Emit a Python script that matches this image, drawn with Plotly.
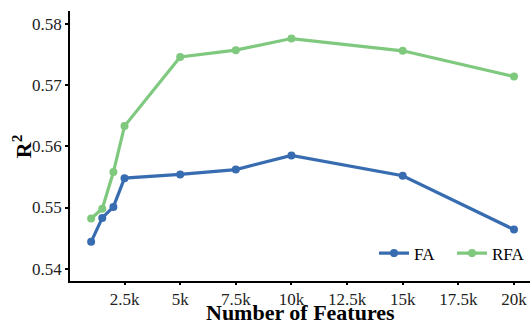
import plotly.graph_objects as go

features = [1000, 1500, 2000, 2500, 5000, 7500, 10000, 15000, 20000]
fa = [0.5444, 0.5483, 0.5501, 0.5548, 0.5554, 0.5562, 0.5585, 0.5552, 0.5464]
rfa = [0.5482, 0.5498, 0.5558, 0.5633, 0.5746, 0.5757, 0.5776, 0.5756, 0.5714]
x_ticks = [2500, 5000, 7500, 10000, 12500, 15000, 17500, 20000]
x_labels = ["2.5k", "5k", "7.5k", "10k", "12.5k", "15k", "17.5k", "20k"]
y_ticks = [0.54, 0.55, 0.56, 0.57, 0.58]
y_labels = ["0.54", "0.55", "0.56", "0.57", "0.58"]

font = "Liberation Serif"

fig = go.Figure()
fig.add_trace(go.Scatter(x=features, y=fa, name="FA", mode="lines+markers",
                         line=dict(color="#386CB0", width=3.2),
                         marker=dict(color="#386CB0", size=8)))
fig.add_trace(go.Scatter(x=features, y=rfa, name="RFA", mode="lines+markers",
                         line=dict(color="#7FC97F", width=3.2),
                         marker=dict(color="#7FC97F", size=8)))

fig.update_layout(
    width=532, height=320,
    margin=dict(l=70, r=2, t=11, b=39),
    plot_bgcolor="white", paper_bgcolor="white",
    font=dict(family=font, size=17, color="black"),
    showlegend=True,
    legend=dict(orientation="h", x=1.0, xanchor="right", y=0.035, yanchor="bottom",
                bgcolor="rgba(0,0,0,0)", font=dict(size=17, family=font),
                itemwidth=30, tracegroupgap=0, entrywidth=33),
    xaxis=dict(range=[50, 20720], tickvals=x_ticks, ticktext=x_labels,
               automargin=False,
               showgrid=False, zeroline=False, showline=True, linecolor="black",
               linewidth=1.5, ticks="outside", ticklen=2, tickwidth=1.5,
               tickcolor="black", tickfont=dict(size=17, color="#222", family=font)),
    yaxis=dict(range=[0.5380, 0.5821], tickvals=y_ticks, ticktext=y_labels,
               automargin=False,
               showgrid=False, zeroline=False, showline=True, linecolor="black",
               linewidth=1.5, ticks="outside", ticklen=3, tickwidth=1.5,
               tickcolor="black", tickfont=dict(size=17, color="#222", family=font)),
    annotations=[
        dict(text="<b>Number of Features</b>", xref="paper", yref="paper",
             x=0.5, y=-0.115, xanchor="center", yanchor="middle", showarrow=False,
             font=dict(size=22, family=font, color="black")),
        dict(text="<b>R<sup>2</sup></b>", xref="paper", yref="paper",
             x=-0.104, y=0.5, xanchor="center", yanchor="middle", showarrow=False,
             textangle=-90, font=dict(size=22, family=font, color="black")),
    ],
)

fig.write_html("out.html", config={"displayModeBar": False},
               post_script="document.body.style.margin='0';document.body.style.padding='0';")
